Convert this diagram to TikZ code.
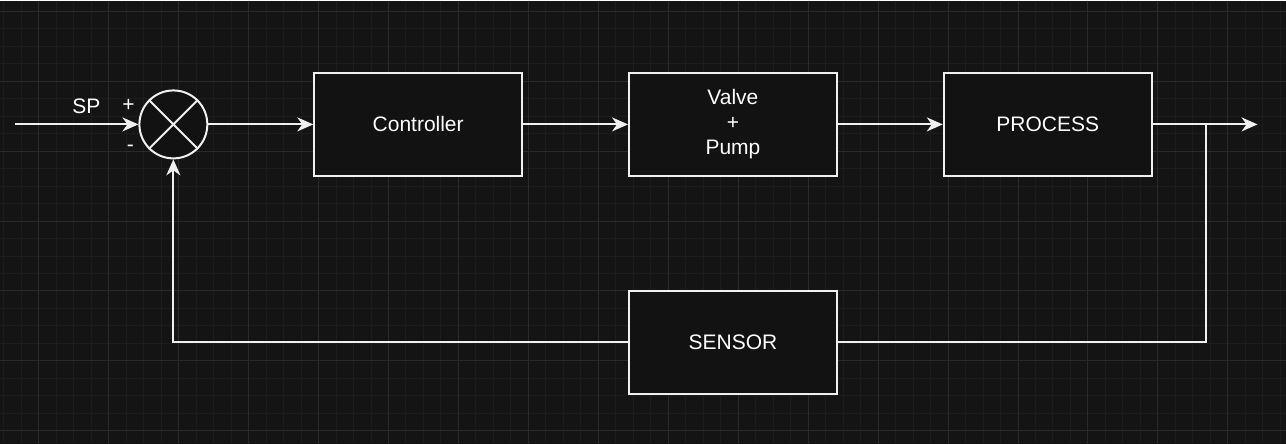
\documentclass[tikz,border=0pt]{standalone}
\usepackage{fontspec}
\setmainfont{Liberation Sans}
\usetikzlibrary{arrows.meta}
\definecolor{bgcol}{HTML}{141414}
\definecolor{minorcol}{HTML}{1C1C1C}
\definecolor{majorcol}{HTML}{2A2A2A}
\definecolor{boxcol}{HTML}{121212}
\definecolor{linecol}{HTML}{F0F0F0}
\tikzset{
  block/.style={draw=linecol, fill=boxcol, line width=2pt, minimum width=208pt, minimum height=103pt, inner sep=0pt, text=white, align=center},
  sumnode/.style={circle, draw=linecol, fill=boxcol, line width=2pt, minimum size=68pt, inner sep=0pt},
  wire/.style={draw=linecol, line width=2pt},
  arr/.style={wire, -{Stealth[length=16pt, width=14pt, inset=5pt]}},
  lbl/.style={text=white, inner sep=0pt}
}
\begin{document}
\begin{tikzpicture}[x=1pt, y=-1pt, font=\fontsize{21}{25}\selectfont]
\fill[bgcol] (0,0) rectangle (1286,444);
\foreach \x in {3.3,20.8,...,1286} \draw[minorcol, line width=1pt] (\x,0) -- (\x,444);
\foreach \y in {10.7,28.2,...,444} \draw[minorcol, line width=1pt] (0,\y) -- (1286,\y);
\foreach \x in {38.3,108.3,...,1286} \draw[majorcol, line width=1pt] (\x,0) -- (\x,444);
\foreach \y in {10.7,80.7,...,444} \draw[majorcol, line width=1pt] (0,\y) -- (1286,\y);

\node[sumnode] (sum) at (173,124) {};
\draw[wire] (sum.45) -- (sum.225) (sum.135) -- (sum.-45);
\node[block] (ctrl) at (418,124) {Controller};
\node[block] (valve) at (733,124) {Valve\\[0pt]+\\[0pt]Pump};
\node[block] (proc) at (1048,124) {PROCESS};
\node[block] (sensor) at (733,342) {SENSOR};

\node[lbl] (sp) at (86,106) {SP};
\node[lbl] (plus) at (128,105) {+};
\node[lbl] (minus) at (130,148) {-};

\coordinate (in) at (15,124);
\coordinate (out) at (1258,124);
\coordinate (branch) at (1206,124);

\draw[arr] (in) -- (sum.west);
\draw[arr] (sum.east) -- (ctrl.west);
\draw[arr] (ctrl.east) -- (valve.west);
\draw[arr] (valve.east) -- (proc.west);
\draw[arr] (proc.east) -- (out);
\draw[wire] (branch) |- (sensor.east);
\draw[arr] (sensor.west) -| (sum.south);
\end{tikzpicture}
\end{document}
